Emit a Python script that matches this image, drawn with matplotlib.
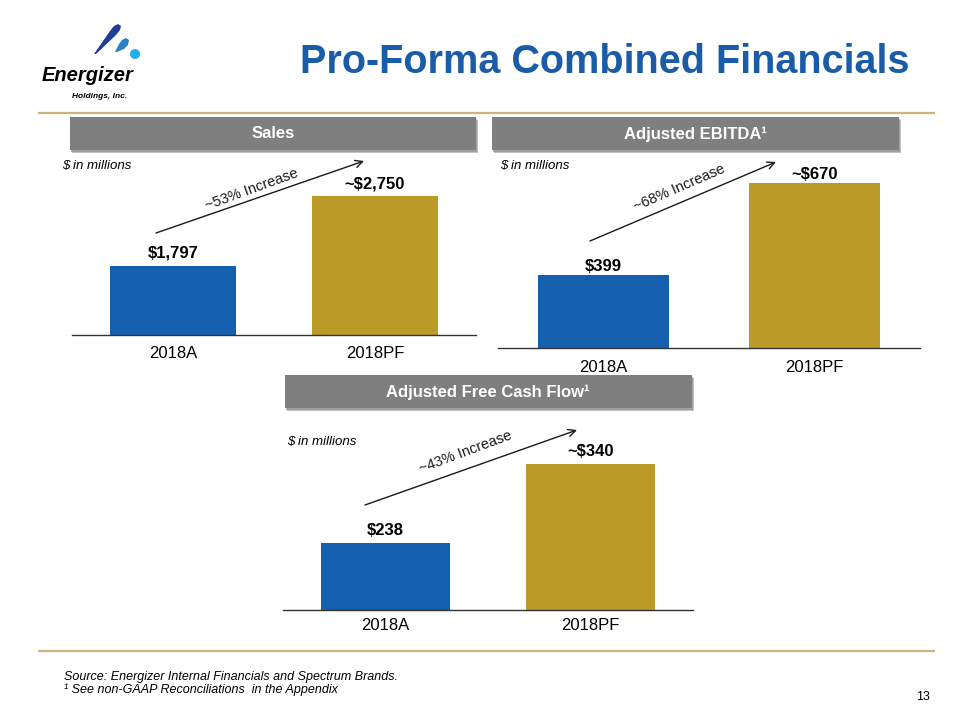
import matplotlib
matplotlib.use("Agg")
import matplotlib.pyplot as plt
from matplotlib.patches import Rectangle, Polygon, Circle

plt.rcParams['font.family'] = ['Liberation Sans', 'DejaVu Sans']

# ---------------- data ----------------
categories = ["2018A", "2018PF"]
sales_values = [1797, 2750]
sales_labels = ["$1,797", "~$2,750"]
ebitda_values = [399, 670]
ebitda_labels = ["$399", "~$670"]
fcf_values = [238, 340]
fcf_labels = ["$238", "~$340"]
panel_titles = ["Sales", "Adjusted EBITDA\u00b9", "Adjusted Free Cash Flow\u00b9"]
increase_texts = ["~53% Increase", "~68% Increase", "~43% Increase"]
unit_text = "$ in millions"
title = "Pro-Forma Combined Financials"
footnotes = ["Source: Energizer Internal Financials and Spectrum Brands.",
             "\u00b9 See non-GAAP Reconciliations  in the Appendix"]
page_no = "13"

BLUE = "#1560AE"
GOLD = "#BC9A27"
TITLE_BLUE = "#1B5CA8"
GRAY = "#7F7F7F"
LINE_GOLD = "#C8B67E"

W, H = 960, 720
fig = plt.figure(figsize=(W / 100, H / 100), dpi=100)
fig.patch.set_facecolor("white")


def px_axes(x0, y0, x1, y1, **kw):
    return fig.add_axes([x0 / W, 1 - y1 / H, (x1 - x0) / W, (y1 - y0) / H], **kw)


# overlay for decorations (pixel coordinates)
ov = px_axes(0, 0, W, H, zorder=5)
ov.set_xlim(0, W)
ov.set_ylim(H, 0)
ov.axis("off")
ov.patch.set_alpha(0)

# separator lines
ov.plot([38, 935], [113, 113], color=LINE_GOLD, lw=1.6, solid_capstyle="butt")
ov.plot([38, 935], [651, 651], color=LINE_GOLD, lw=1.6, solid_capstyle="butt")

# title
ov.text(605, 62, title, ha="center", va="center", fontsize=28.5,
        fontweight="bold", color=TITLE_BLUE)

# logo
ov.add_patch(Polygon([(94, 54), (110, 31), (114, 26), (118, 24), (121, 26),
                      (120, 30), (116, 35), (96, 54)],
                     closed=True, facecolor="#1E3E97", edgecolor="none"))
ov.add_patch(Polygon([(115, 52), (119, 44), (122, 40), (126, 38), (129, 40),
                      (128, 45), (124, 49), (117, 52)],
                     closed=True, facecolor="#2F7FC4", edgecolor="none"))
ov.add_patch(Circle((135, 54), 5.0, facecolor="#22AEEA", edgecolor="none"))
ov.text(88, 81, "Energizer", ha="center", va="baseline", fontsize=14.5,
        fontweight="heavy", style="italic", color="black")
ov.text(100, 98, "Holdings, Inc.", ha="center", va="baseline", fontsize=6,
        fontweight="bold", style="italic", color="black")


def header(x0, y0, x1, y1, text, cx):
    ov.add_patch(Rectangle((x0 + 2, y0 + 3), x1 - x0, y1 - y0,
                           facecolor="#9a9a9a", edgecolor="none", alpha=0.6))
    ov.add_patch(Rectangle((x0 + 1, y0 + 1.5), x1 - x0, y1 - y0,
                           facecolor="#8a8a8a", edgecolor="none", alpha=0.6))
    ov.add_patch(Rectangle((x0, y0), x1 - x0, y1 - y0,
                           facecolor=GRAY, edgecolor="none"))
    ov.text(cx, (y0 + y1) / 2 + 0.5, text, ha="center", va="center",
            fontsize=12, fontweight="bold", color="white")


header(70, 117, 476, 150, panel_titles[0], 273)
header(492, 117, 899, 150, panel_titles[1], 695)
header(285, 375, 692, 408, panel_titles[2], 488)

# unit labels
ov.text(62, 166, unit_text, ha="left", va="center", fontsize=9.5, style="italic")
ov.text(500, 166, unit_text, ha="left", va="center", fontsize=9.5, style="italic")
ov.text(287, 442, unit_text, ha="left", va="center", fontsize=9.5, style="italic")

# increase arrows + text
arrows = [((156, 233), (364, 161), (252, 189), 20),
          ((590, 241), (776, 162), (679, 188), 23.5),
          ((365, 505), (577, 430), (465, 452), 20.5)]
for (start, end, tc, rot), txt in zip(arrows, increase_texts):
    ov.annotate("", xy=end, xytext=start,
                arrowprops=dict(arrowstyle="->", lw=1.0, color="#1a1a1a",
                                mutation_scale=13, shrinkA=0, shrinkB=0))
    ov.text(tc[0], tc[1], txt, ha="center", va="center", fontsize=10.5,
            rotation=rot, rotation_mode="anchor", color="#1a1a1a")

# footer
ov.text(64, 677, footnotes[0], ha="left", va="center", fontsize=9, style="italic")
ov.text(64, 690, footnotes[1], ha="left", va="center", fontsize=9, style="italic")
ov.text(930, 697, page_no, ha="right", va="center", fontsize=9)


def bar_panel(rect, values, labels, ylim, label_off, tick_pad):
    ax = px_axes(*rect, zorder=2)
    x = list(range(len(categories)))
    ax.bar(x, values, width=0.625, color=[BLUE, GOLD], edgecolor="none")
    ax.set_xlim(-0.5, 1.5)
    ax.set_ylim(*ylim)
    for s in ["top", "left", "right"]:
        ax.spines[s].set_visible(False)
    ax.spines["bottom"].set_color("#333333")
    ax.spines["bottom"].set_linewidth(1.0)
    ax.set_yticks([])
    ax.set_xticks(x)
    ax.set_xticklabels(categories, fontsize=12)
    ax.tick_params(axis="x", length=0, pad=tick_pad)
    ax.patch.set_alpha(0)
    for xi, v, lab in zip(x, values, labels):
        ax.annotate(lab, (xi, v), xytext=(0, label_off), textcoords="offset pixels",
                    ha="center", va="baseline", fontsize=12, fontweight="bold",
                    annotation_clip=False)
    return ax


bar_panel((72, 175, 476, 335), sales_values, sales_labels, (853, 3037), 8, 8)
bar_panel((498, 175, 920, 348), ebitda_values, ebitda_labels, (184, 693.6), 4.5, 8.5)
bar_panel((283, 430, 693, 610), fcf_values, fcf_labels, (151.5, 383.9), 8, 6)

fig.savefig("out.png", dpi=100, facecolor="white")
